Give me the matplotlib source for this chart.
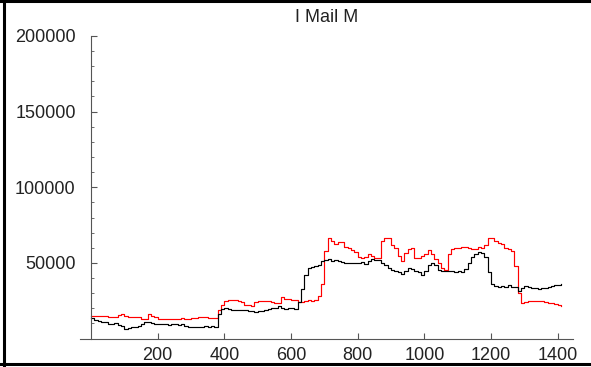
"""IMail M: two step traces, Mathematica-style frame."""
import matplotlib
matplotlib.use("Agg")
import matplotlib.pyplot as plt
from matplotlib.lines import Line2D
from matplotlib.ticker import MultipleLocator
import numpy as np

plt.rcParams["font.family"] = ["Liberation Sans", "DejaVu Sans"]

title = "I Mail M"

# sample positions (every 10 units) and values, in thousands
xs = list(range(0, 1411, 10))

black_k = [
    13.6, 12.5, 11.5, 10.9, 10.9, 9.6, 9.6, 10.2, 9.0, 8.3,
    6.3, 6.9, 7.6, 7.6, 8.3, 9.6, 10.9, 10.9, 10.2, 9.6,
    9.6, 9.6, 9.6, 9.0, 9.6, 9.6, 9.0, 9.6, 8.3, 7.6,
    7.6, 7.6, 7.6, 7.6, 8.3, 7.6, 8.3, 7.6, 16.0, 19.5,
    20.2, 19.5, 18.9, 18.9, 18.9, 18.9, 18.9, 18.2, 18.2, 17.5,
    18.2, 18.2, 18.9, 19.5, 20.2, 20.2, 21.5, 20.2, 19.5, 20.2,
    20.2, 19.5, 24.0, 33.0, 42.0, 46.7, 47.3, 48.0, 48.6, 51.3,
    52.0, 52.6, 51.3, 52.0, 51.3, 50.6, 50.0, 50.0, 50.0, 50.0,
    50.0, 50.6, 49.3, 51.3, 52.6, 52.0, 52.0, 50.0, 48.6, 46.7,
    45.3, 44.7, 44.0, 42.7, 44.7, 46.7, 46.0, 44.7, 44.0, 42.0,
    44.7, 48.6, 50.0, 48.6, 45.3, 44.7, 44.7, 44.7, 44.7, 44.0,
    44.7, 44.0, 46.0, 50.0, 54.0, 56.0, 57.3, 56.6, 54.0, 44.0,
    36.0, 34.8, 34.1, 34.8, 34.1, 35.4, 34.1, 34.1, 31.5, 33.4,
    34.8, 34.1, 33.4, 33.4, 32.8, 33.4, 33.4, 34.1, 34.8, 35.4,
    35.4, 36.1,
]

red_k = [
    14.9, 14.9, 14.9, 14.9, 14.9, 14.2, 14.2, 14.2, 15.6, 16.2,
    14.9, 14.2, 14.2, 14.2, 14.2, 12.9, 12.9, 16.2, 14.9, 14.2,
    12.9, 12.9, 12.9, 12.9, 12.9, 12.9, 12.9, 13.6, 12.9, 12.9,
    13.6, 13.6, 14.2, 14.2, 14.2, 13.6, 13.6, 13.6, 18.9, 22.2,
    24.8, 25.5, 25.5, 25.5, 24.8, 24.2, 22.2, 22.2, 21.5, 24.2,
    24.8, 24.8, 24.8, 24.8, 24.2, 23.5, 23.5, 27.5, 26.1, 26.1,
    25.5, 25.5, 24.2, 24.2, 24.8, 25.5, 24.8, 25.5, 28.1, 36.0,
    58.0, 66.5, 64.5, 62.5, 63.9, 63.9, 60.6, 60.0, 58.6, 57.3,
    54.0, 53.3, 54.0, 56.0, 54.7, 53.3, 53.3, 64.5, 66.5, 66.5,
    61.9, 59.9, 54.7, 51.3, 56.6, 59.3, 60.0, 53.3, 53.3, 54.7,
    56.0, 58.6, 56.0, 52.6, 50.0, 46.7, 45.3, 56.0, 59.3, 60.0,
    59.9, 60.6, 60.6, 59.9, 59.3, 59.3, 60.6, 60.0, 61.9, 66.5,
    66.5, 64.5, 63.2, 62.5, 59.9, 59.3, 58.0, 48.0, 30.0, 23.5,
    24.2, 24.8, 24.8, 24.8, 24.8, 24.8, 24.2, 23.5, 23.5, 22.9,
    22.2, 21.5,
]

x_ticks = [200, 400, 600, 800, 1000, 1200, 1400]
y_ticks = [50000, 100000, 150000, 200000]


def main():
    W, H = 591, 367
    fig = plt.figure(figsize=(W / 100, H / 100), dpi=100)
    ax = fig.add_axes([80 / W, (H - 338.5) / H, 493 / W, 302.5 / H])

    x = np.array(xs)
    ax.plot(x, np.array(red_k) * 1000, color="#ff0000", lw=0.85, drawstyle="steps-post")
    ax.plot(x, np.array(black_k) * 1000, color="black", lw=0.85, drawstyle="steps-post")

    ax.set_xlim(-33, 1446)
    ax.set_ylim(0, 200000)

    for s in ("top", "right"):
        ax.spines[s].set_visible(False)
    ax.spines["left"].set_position(("data", 0))
    for s in ("left", "bottom"):
        ax.spines[s].set_color("#555555")
        ax.spines[s].set_linewidth(0.8)

    ax.set_xticks(x_ticks)
    ax.set_xticklabels([str(t) for t in x_ticks])
    ax.set_yticks(y_ticks)
    ax.set_yticklabels([str(t) for t in y_ticks])
    ax.yaxis.set_minor_locator(MultipleLocator(10000))
    ax.tick_params(axis="both", which="major", direction="in", length=4,
                   width=0.8, color="#555555", labelsize=13, labelcolor="#222222")
    ax.tick_params(axis="y", which="minor", direction="in", length=2.5,
                   width=0.6, color="#555555")
    ax.tick_params(axis="y", which="major", pad=11)
    ax.tick_params(axis="x", which="major", pad=6)

    ax.set_title(title, fontsize=13, color="#222222", pad=10)

    # frame around the picture (left, top, bottom)
    kw = dict(color="black", lw=2.2, transform=fig.transFigure)
    fig.add_artist(Line2D([4 / W, 4 / W], [0, 1], **kw))
    fig.add_artist(Line2D([0, 1], [1 - 1.2 / H, 1 - 1.2 / H], **kw))
    fig.add_artist(Line2D([0, 1], [2.8 / H, 2.8 / H], **kw))

    fig.savefig("out.png", dpi=100)


if __name__ == "__main__":
    main()
